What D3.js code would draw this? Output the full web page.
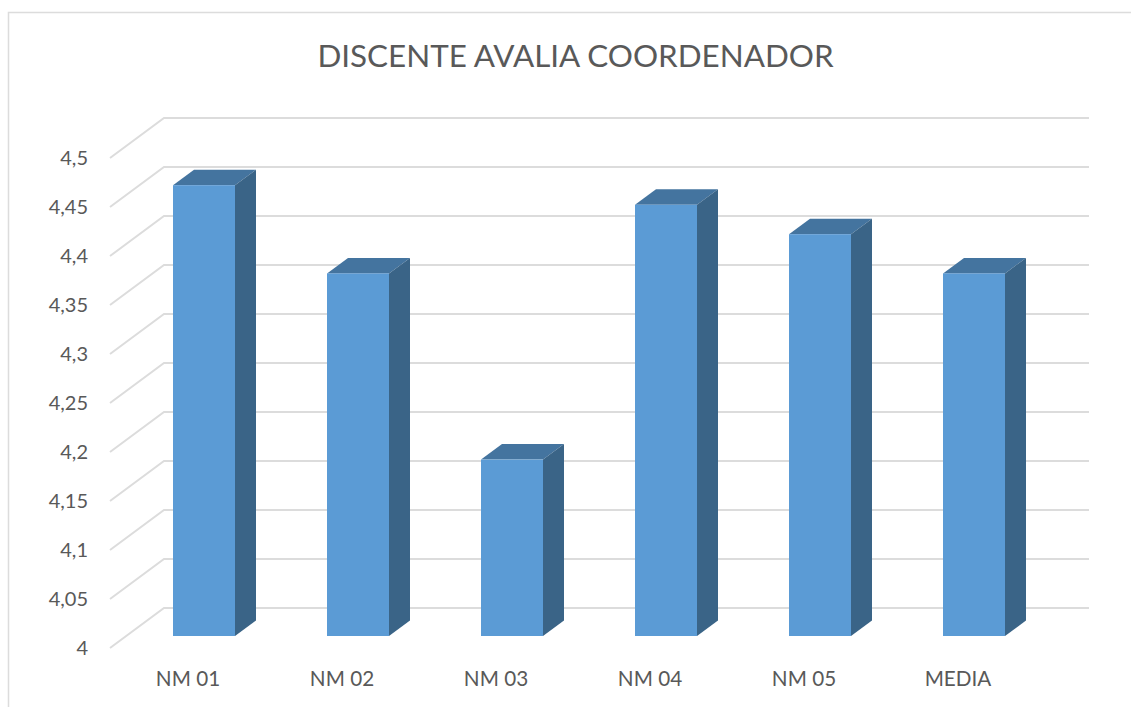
<!DOCTYPE html>
<html><head><meta charset="utf-8">
<script src="https://cdn.jsdelivr.net/npm/d3@7"></script>
<style>html,body{margin:0;padding:0;background:#fff}svg{display:block}text{font-family:Lato,"Open Sans",sans-serif}</style>
</head><body><svg id="c" width="1131" height="707"></svg>
<script>
const categories = ["NM 01","NM 02","NM 03","NM 04","NM 05","MEDIA"];
const values = [4.46,4.37,4.18,4.44,4.41,4.37];
const tickValues = [4,4.05,4.1,4.15,4.2,4.25,4.3,4.35,4.4,4.45,4.5];
const tickLabels = ["4","4,05","4,1","4,15","4,2","4,25","4,3","4,35","4,4","4,45","4,5"];
const titleText = "DISCENTE AVALIA COORDENADOR";

const svg = d3.select("#c");
const gridColor = "#dcdcdc", textColor = "#595959";
const wallDx = 54, wallDy = -40, barDx = 21, barDy = -15.5;

// frame
svg.append("path").attr("d","M8.5,707V12.5H1131").attr("fill","none").attr("stroke",gridColor).attr("stroke-width",1.5);

svg.append("text").attr("x",575.5).attr("y",67).attr("text-anchor","middle")
  .attr("font-size",31.4).attr("fill",textColor).text(titleText);

const yAxisScale = d3.scaleLinear().domain([4,4.5]).range([648,158]);
const yBarScale = d3.scaleLinear().domain([4,4.5]).range([636,146]);
const x = d3.scaleBand().domain(categories).range([127,1051]).paddingInner(92/154).paddingOuter(46/154);

// gridlines
svg.append("g").selectAll("path").data(tickValues).join("path")
  .attr("d",d=>{const y=yAxisScale(d);return `M110,${y}L${110+wallDx},${y+wallDy}H1089`;})
  .attr("fill","none").attr("stroke",gridColor).attr("stroke-width",2);

// tick labels
svg.append("g").selectAll("text").data(tickValues).join("text")
  .attr("x",88).attr("y",d=>yAxisScale(d)).attr("dy","0.35em").attr("text-anchor","end")
  .attr("font-size",20).attr("fill",textColor).text((d,i)=>tickLabels[i]);

// bars
const bars = svg.append("g").selectAll("g").data(categories).join("g");
bars.append("path").attr("fill","#44749f").attr("d",(c,i)=>{
  const l=x(c), r=l+x.bandwidth(), t=yBarScale(values[i]);
  return `M${l},${t}l${barDx},${barDy}H${r+barDx}L${r},${t}Z`;});
bars.append("path").attr("fill","#3a6487").attr("d",(c,i)=>{
  const r=x(c)+x.bandwidth(), t=yBarScale(values[i]), b=yBarScale(4);
  return `M${r},${t}l${barDx},${barDy}V${b+barDy}L${r},${b}Z`;});
bars.append("rect").attr("fill","#5b9bd5")
  .attr("x",c=>x(c)).attr("width",x.bandwidth())
  .attr("y",(c,i)=>yBarScale(values[i])).attr("height",(c,i)=>yBarScale(4)-yBarScale(values[i]));

// category labels
svg.append("g").selectAll("text").data(categories).join("text")
  .attr("x",c=>x(c)+x.bandwidth()/2-16).attr("y",679).attr("dy","0.35em").attr("text-anchor","middle")
  .attr("font-size",20.7).attr("fill",textColor).text(c=>c);
</script></body></html>
